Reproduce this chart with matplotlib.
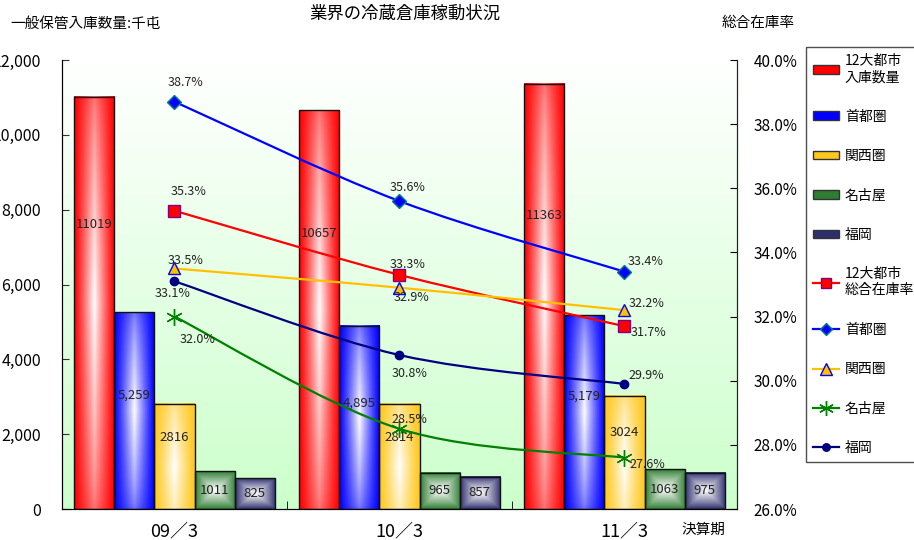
import numpy as np
import matplotlib
matplotlib.use("Agg")
import matplotlib.pyplot as plt
from matplotlib.colors import to_rgb
from matplotlib.lines import Line2D
from matplotlib.patches import Patch, PathPatch
from matplotlib.path import Path

plt.rcParams["font.family"] = ["Noto Sans CJK JP", "DejaVu Sans"]

periods = ["09／3", "10／3", "11／3"]

# 入庫数量（千屯）
bar_names = ["12大都市\n入庫数量", "首都圏", "関西圏", "名古屋", "福岡"]
stock_12 = [11019, 10657, 11363]
stock_shuto = [5259, 4895, 5179]
stock_kansai = [2816, 2814, 3024]
stock_nagoya = [1011, 965, 1063]
stock_fukuoka = [825, 857, 975]
stock_labels = [
    ["11019", "10657", "11363"],
    ["5,259", "4,895", "5,179"],
    ["2816", "2814", "3024"],
    ["1011", "965", "1063"],
    ["825", "857", "975"],
]

# 総合在庫率（%）
line_names = ["12大都市\n総合在庫率", "首都圏", "関西圏", "名古屋", "福岡"]
rate_12 = [35.3, 33.3, 31.7]
rate_shuto = [38.7, 35.6, 33.4]
rate_kansai = [33.5, 32.9, 32.2]
rate_nagoya = [32.0, 28.5, 27.6]
rate_fukuoka = [33.1, 30.8, 29.9]

bar_series = [stock_12, stock_shuto, stock_kansai, stock_nagoya, stock_fukuoka]
line_series = [rate_12, rate_shuto, rate_kansai, rate_nagoya, rate_fukuoka]

# bar look: base colour, gradient kind, peak height of the white highlight, label height ratio
bar_styles = [
    ("#FF0000", "h", 0.5, 0.69),
    ("#0000FF", "h", 0.5, 0.58),
    ("#FFC81E", "h", 0.4, 0.68),
    ("#2E7D32", "box", 0.5, 0.5),
    ("#2E2E6E", "box", 0.5, 0.5),
]

# line look: colour, marker, marker face, marker edge, size
line_styles = [
    ("#FF0000", "s", "#FF0000", "#800080", 8),
    ("#0000FF", "D", "#0000FF", "#008080", 7),
    ("#FFC000", "^", "#FFC000", "#0000FF", 9),
    ("#008000", (6, 2, 0), "#008000", "#008000", 12),
    ("#000080", "o", "#000080", "#000080", 6),
]
# value label offsets (pixels) per series/point
label_offsets = [
    [(14, 19), (8, 10), (24, -6)],
    [(11, 19), (8, 14), (21, 10)],
    [(11, 8), (12, -10), (22, 7)],
    [(23, -23), (10, 9), (23, -7)],
    [(-2, -12), (10, -18), (22, 8)],
]


def gradient_image(color, kind, peak, n=64):
    u = np.linspace(0, 1, n)
    v = np.linspace(0, 1, n)
    U, V = np.meshgrid(u, v)
    hx = 1 - np.abs(2 * U - 1)
    if kind == "box":
        hy = 1 - np.abs(2 * V - 1)
        t = np.minimum(hx, hy) ** 0.9
    else:
        hy = 1 - np.abs(V - peak) / max(peak, 1 - peak)
        t = hx ** 1.15 * (0.45 + 0.55 * hy ** 0.7)
    t = np.clip(t, 0, 0.96)
    base = np.array(to_rgb(color))
    img = base[None, None, :] * (1 - t[..., None]) + t[..., None]
    return img


def smooth_path(xs, ys):
    # Excel style smoothed line: cubic Bezier through every point
    pts = np.column_stack([xs, ys]).astype(float)
    ext = np.vstack([pts[0], pts, pts[-1]])
    verts = [pts[0]]
    codes = [Path.MOVETO]
    for i in range(len(pts) - 1):
        p0, p1, p2, p3 = ext[i], ext[i + 1], ext[i + 2], ext[i + 3]
        verts += [p1 + (p2 - p0) / 6, p2 - (p3 - p1) / 6, p2]
        codes += [Path.CURVE4] * 3
    return Path(verts, codes)


fig = plt.figure(figsize=(9.14, 5.4), dpi=100)
ax = fig.add_axes([62 / 914, 31 / 540, 675 / 914, 449 / 540])
ax2 = ax.twinx()

# plot area background: white -> light green
bg = np.linspace(0, 1, 100)[:, None]
bg_img = np.ones((100, 1, 3)) * (1 - bg[..., None]) + np.array(to_rgb("#CCFFCC")) * bg[..., None]
ax.imshow(bg_img, extent=[0, 1, 0, 1], transform=ax.transAxes, aspect="auto",
          origin="upper", zorder=0)

x = np.arange(len(periods))
width = 0.1778
for i, (vals, (color, kind, peak, lab_ratio)) in enumerate(zip(bar_series, bar_styles)):
    pos = x + (i - 2) * width
    img = gradient_image(color, kind, peak)
    for xi, val, txt in zip(pos, vals, stock_labels[i]):
        ax.imshow(img, extent=[xi - width / 2, xi + width / 2, 0, val], aspect="auto",
                  origin="lower", zorder=2, interpolation="bilinear")
        ax.text(xi, val * lab_ratio, txt, ha="center", va="center", fontsize=9.5,
                color="#222222", zorder=4)
    ax.bar(pos, vals, width=width, fill=False, edgecolor="#111111", linewidth=1.0, zorder=3)

ax.set_xlim(-0.5, 2.5)
ax.set_ylim(0, 12000)
ax.set_yticks(np.arange(0, 12001, 2000))
ax.set_yticklabels([f"{v:,}" for v in range(0, 12001, 2000)], fontsize=11.5)
ax.tick_params(axis="y", direction="in", length=5, pad=15, color="#333333")
ax.set_xticks(x)
ax.set_xticklabels(periods, fontsize=13)
ax.tick_params(axis="x", length=0, pad=10)
ax.set_xticks([0.5, 1.5], minor=True)
ax.tick_params(axis="x", which="minor", direction="in", length=6)
ax.spines["top"].set_visible(False)
ax2.spines["top"].set_visible(False)
for sp in ["left", "bottom", "right"]:
    ax.spines[sp].set_color("#222222")
ax2.spines["right"].set_color("#222222")

for i, (vals, (color, marker, face, edge, size)) in enumerate(zip(line_series, line_styles)):
    ax2.add_patch(PathPatch(smooth_path(x, vals), facecolor="none", edgecolor=color,
                            linewidth=1.6, zorder=5))
    ax2.plot(x, vals, linestyle="none", marker=marker, markersize=size,
             markerfacecolor=face, markeredgecolor=edge, markeredgewidth=1.0, zorder=6)
    for xi, val, (dx, dy) in zip(x, vals, label_offsets[i]):
        ax2.annotate(f"{val:.1f}%", (xi, val), xytext=(dx, dy), textcoords="offset pixels",
                     ha="center", va="center", fontsize=9, color="#222222", zorder=7)

ax2.set_ylim(26, 40)
ax2.set_yticks(np.arange(26, 40.1, 2))
ax2.set_yticklabels([f"{v:.1f}%" for v in np.arange(26, 40.1, 2)], fontsize=11)
ax2.tick_params(axis="y", direction="in", length=5, pad=12)

fig.text(405 / 914, 1 - 14 / 540, "業界の冷蔵倉庫稼動状況", ha="center", va="center", fontsize=12.5)
fig.text(10 / 914, 1 - 24 / 540, "一般保管入庫数量:千屯", ha="left", va="center", fontsize=10.5)
fig.text(722 / 914, 1 - 23 / 540, "総合在庫率", ha="left", va="center", fontsize=10.5)
fig.text(681 / 914, 1 - 530 / 540, "決算期", ha="left", va="center", fontsize=10.5)

handles = []
labels = []
for name, (color, *_rest) in zip(bar_names, bar_styles):
    handles.append(Patch(facecolor=color, edgecolor="#333333"))
    labels.append(name)
for name, (color, marker, face, edge, size) in zip(line_names, line_styles):
    handles.append(Line2D([], [], color=color, linewidth=1.6, marker=marker,
                          markersize=size * 0.9, markerfacecolor=face, markeredgecolor=edge))
    labels.append(name)

fig.legend(handles, labels, loc="upper left", bbox_to_anchor=(806 / 914, 1 - 47 / 540),
           bbox_transform=fig.transFigure, borderaxespad=0, frameon=True, fancybox=False,
           edgecolor="#222222", fontsize=10, labelspacing=1.83, handlelength=1.9,
           handleheight=0.6, handletextpad=0.4, borderpad=0.5)

fig.savefig("out.png", dpi=100)
